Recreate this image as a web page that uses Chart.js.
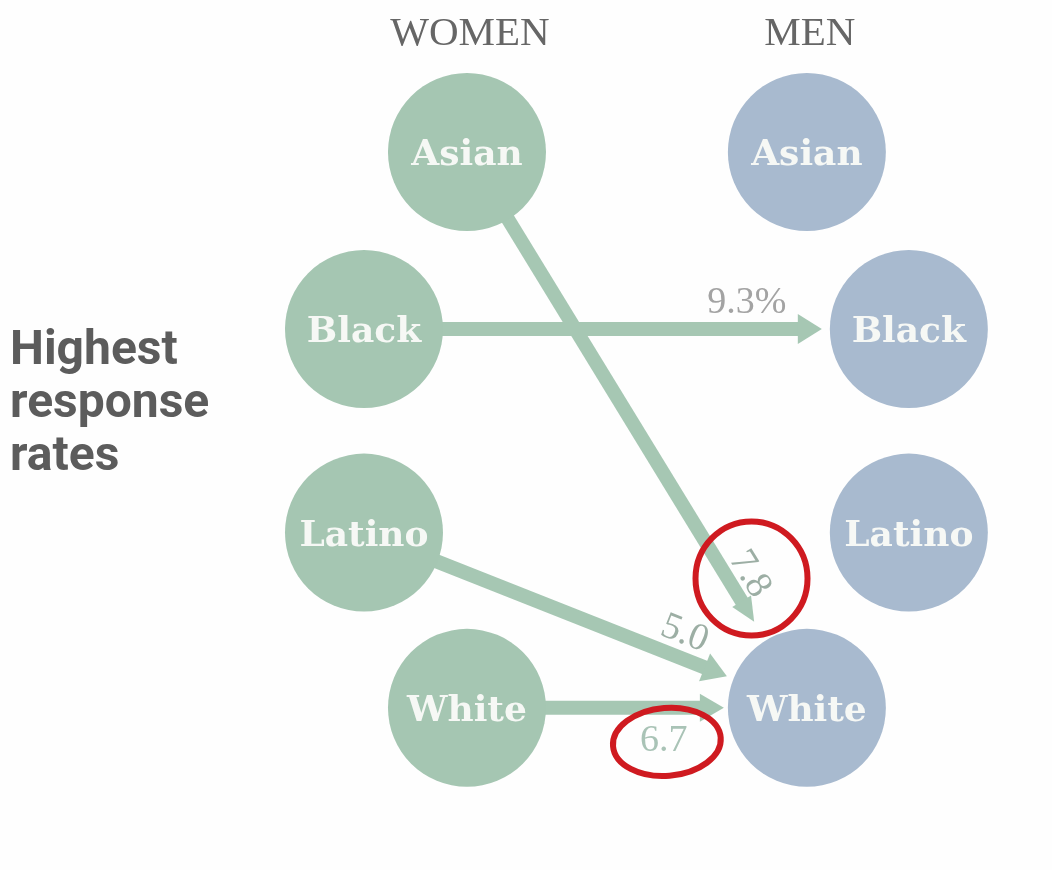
<!DOCTYPE html>
<html>
<head>
<meta charset="utf-8">
<script src="https://cdn.jsdelivr.net/npm/chart.js@4/dist/chart.umd.min.js"></script>
<style>
  body { margin: 0; background: #fefefe; }
  #wrap { width: 1052px; height: 870px; }
</style>
</head>
<body>
<div id="wrap"><canvas id="chart" width="1052" height="870"></canvas></div>
<script>
// --- data ---
const races = ['Asian', 'Black', 'Latino', 'White'];
const sexes = ['WOMEN', 'MEN'];
const flowFrom = ['Asian', 'Black', 'Latino', 'White'];   // women group
const flowTo = ['White', 'Black', 'White', 'White'];       // men group
const flowRates = [7.8, 9.3, 5.0, 6.7];
const flowSuffix = ['', '%', '', ''];
const circledFlows = [0, 3];
const sideTitle = ['Highest', 'response', 'rates'];

// --- layout ---
const colX = { WOMEN: [1, 0, 0, 1], MEN: [4.3, 5.29, 5.29, 4.3] };
const rowY = [0, 1, 2.15, 3.14];
const NODE_R = 79;
const nodeColor = { WOMEN: '#a5c6b2', MEN: '#a8bacf' };
const ARROW = '#a6c7b3';
// per flow: gap before target circle, head half width, label distance back from tip, side offset, rotate, colour
const flowLayout = [
  { gap: 22, hw: 11, back: 43, side: 22, rot: true, color: '#9caea4' },
  { gap: 8, hw: 15, back: 75, side: 27, rot: false, color: '#a3a3a3' },
  { gap: 7, hw: 15, back: 55, side: 25, rot: true, color: '#9caea4' },
  { gap: 4, hw: 14, back: 60, side: -32, rot: false, color: '#a9c3b6' }
];
const ellipses = { 0: { rx: 56, ry: 57, a: 0, ox: 1, oy: 5 }, 3: { rx: 54, ry: 34, a: -0.08, ox: 3, oy: 2 } };

function nodePos(chart, sex, race) {
  const el = chart.getDatasetMeta(sexes.indexOf(sex)).data[races.indexOf(race)];
  return { x: el.x, y: el.y };
}

function flowGeom(chart, i) {
  const a = nodePos(chart, 'WOMEN', flowFrom[i]);
  const b = nodePos(chart, 'MEN', flowTo[i]);
  const len = Math.hypot(b.x - a.x, b.y - a.y);
  const dx = (b.x - a.x) / len, dy = (b.y - a.y) / len;
  const tipD = len - NODE_R - flowLayout[i].gap;
  return { a, dx, dy, tip: { x: a.x + dx * tipD, y: a.y + dy * tipD } };
}

const arrows = {
  id: 'arrows',
  beforeDatasetsDraw(chart) {
    const ctx = chart.ctx;
    ctx.save();
    ctx.fillStyle = ARROW;
    ctx.strokeStyle = ARROW;
    flowRates.forEach((v, i) => {
      const g = flowGeom(chart, i);
      const head = 24, hw = flowLayout[i].hw;
      const bx = g.tip.x - g.dx * head, by = g.tip.y - g.dy * head;
      ctx.lineWidth = 14;
      ctx.beginPath();
      ctx.moveTo(g.a.x, g.a.y);
      ctx.lineTo(bx + g.dx * 2, by + g.dy * 2);
      ctx.stroke();
      ctx.beginPath();
      ctx.moveTo(g.tip.x, g.tip.y);
      ctx.lineTo(bx + g.dy * hw, by - g.dx * hw);
      ctx.lineTo(bx - g.dy * hw, by + g.dx * hw);
      ctx.closePath();
      ctx.fill();
    });
    ctx.restore();
  },
  afterDatasetsDraw(chart) {
    const ctx = chart.ctx;
    const ys = chart.scales.y;
    ctx.save();
    // node labels
    ctx.textAlign = 'center';
    ctx.textBaseline = 'alphabetic';
    ctx.fillStyle = '#f6f8f5';
    ctx.font = 'bold 36px "DejaVu Serif"';
    sexes.forEach(s => races.forEach(r => {
      const p = nodePos(chart, s, r);
      ctx.fillText(r, p.x, p.y + 13);
    }));
    // column headers
    ctx.fillStyle = '#666666';
    ctx.font = '41px "Liberation Serif"';
    sexes.forEach(s => {
      const p = nodePos(chart, s, 'Asian');
      ctx.fillText(s, p.x + 3, ys.getPixelForValue(-0.605));
    });
    // flow labels
    ctx.font = '38px "Liberation Serif"';
    flowRates.forEach((v, i) => {
      const g = flowGeom(chart, i), L = flowLayout[i];
      const cx = g.tip.x - g.dx * L.back + g.dy * L.side;
      const cy = g.tip.y - g.dy * L.back - g.dx * L.side;
      ctx.save();
      ctx.translate(cx, cy);
      if (L.rot) ctx.rotate(Math.atan2(g.dy, g.dx));
      ctx.fillStyle = L.color;
      ctx.textBaseline = 'middle';
      ctx.fillText(v.toFixed(1) + flowSuffix[i], 0, 1);
      ctx.restore();
      if (circledFlows.includes(i)) {
        const e = ellipses[i];
        ctx.strokeStyle = '#cf1a20';
        ctx.lineWidth = 6;
        ctx.beginPath();
        ctx.ellipse(cx + e.ox, cy + e.oy, e.rx, e.ry, e.a, 0, Math.PI * 2);
        ctx.stroke();
      }
    });
    // side title
    ctx.fillStyle = '#5c5c5c';
    ctx.textAlign = 'left';
    ctx.font = 'bold 48px Roboto';
    const mid = (ys.getPixelForValue(rowY[1]) + ys.getPixelForValue(rowY[2])) / 2;
    sideTitle.forEach((t, k) => ctx.fillText(t, 10, mid - 67 + k * 53));
    ctx.restore();
  }
};

new Chart(document.getElementById('chart'), {
  type: 'bubble',
  data: {
    datasets: sexes.map(s => ({
      label: s,
      data: races.map((r, k) => ({ x: colX[s][k], y: rowY[k], r: NODE_R })),
      backgroundColor: nodeColor[s],
      borderWidth: 0,
      hoverRadius: 0
    }))
  },
  options: {
    responsive: false,
    animation: false,
    layout: { padding: 0, autoPadding: false },
    plugins: { legend: { display: false }, tooltip: { enabled: false } },
    scales: {
      x: { type: 'linear', display: false, min: -3.534, max: 6.68 },
      y: { type: 'linear', display: false, reverse: true, min: -0.859, max: 4.056 }
    }
  },
  plugins: [arrows]
});
</script>
</body>
</html>
